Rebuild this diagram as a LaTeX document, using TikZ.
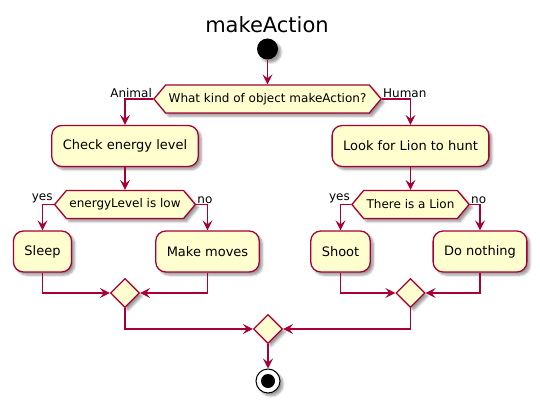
\documentclass[tikz,border=0pt]{standalone}
\usepackage{fontspec}
\setmainfont{DejaVu Sans}
\usetikzlibrary{arrows.meta,shapes.geometric,shapes.symbols,shadows.blur}
\definecolor{umlfill}{HTML}{FEFECE}
\definecolor{umlline}{HTML}{A80036}
\begin{document}
\begin{tikzpicture}[x=1pt,y=-1pt,
 shadowed/.style={blur shadow={shadow xshift=3pt,shadow yshift=-3pt,shadow blur steps=6,shadow opacity=40}},
 activity/.style={draw=umlline,fill=umlfill,line width=1.3pt,rounded corners=10pt,minimum height=41pt,inner xsep=11pt,font=\fontsize{13}{15}\selectfont,shadowed},
 decision/.style={draw=umlline,fill=umlfill,line width=1.3pt,shape=signal,signal to=east and west,signal pointer angle=100,minimum height=28pt,inner xsep=3pt,font=\fontsize{12}{14}\selectfont,shadowed},
 merge/.style={draw=umlline,fill=umlfill,line width=1.3pt,diamond,minimum size=29pt,inner sep=0pt,shadowed},
 flow/.style={draw=umlline,line width=1.3pt,-{Stealth[length=10pt,width=10pt,inset=4pt]}},
 lbl/.style={font=\fontsize{12}{14}\selectfont,inner sep=1pt}
]
\useasboundingbox (0,0) rectangle (540,406);
\node (title) at (267,25) {\fontsize{21}{25}\selectfont makeAction};
\node[circle,fill=black,minimum size=21pt,inner sep=0pt,shadowed] (start) at (267.5,49) {};
\node[decision] (d1) at (267.5,99) {What kind of object makeAction?};
\node[activity] (check) at (125,146) {Check energy level};
\node[decision] (d2) at (125,204.5) {energyLevel is low};
\node[activity] (sleep) at (42.5,251.5) {Sleep};
\node[activity] (moves) at (207.5,251.5) {Make moves};
\node[merge] (m1) at (125,293) {};
\node[activity] (look) at (410.5,146) {Look for Lion to hunt};
\node[decision] (d3) at (410.5,204.5) {There is a Lion};
\node[activity] (shoot) at (340.5,251.5) {Shoot};
\node[activity] (nothing) at (480,251.5) {Do nothing};
\node[merge] (m2) at (410.5,293) {};
\node[merge] (m0) at (268,329) {};
\node[circle,draw=black,fill=white,line width=1pt,minimum size=24pt,inner sep=0pt,shadowed] (stop) at (268,381) {};
\node[circle,fill=black,minimum size=14pt,inner sep=0pt] (stopdot) at (stop) {};

\node[lbl,anchor=south east] (lanimal) at (d1.west) {Animal};
\node[lbl,anchor=south west] (lhuman) at (d1.east) {Human};
\node[lbl,anchor=south east] (lyes1) at (d2.west) {yes};
\node[lbl,anchor=south west] (lno1) at (d2.east) {no};
\node[lbl,anchor=south east] (lyes2) at (d3.west) {yes};
\node[lbl,anchor=south west] (lno2) at (d3.east) {no};

\draw[flow] (start.south) -- (d1.north);
\draw[flow] (d1.west) -| (check.north);
\draw[flow] (d1.east) -| (look.north);
\draw[flow] (check.south) -- (d2.north);
\draw[flow] (d2.west) -| (sleep.north);
\draw[flow] (d2.east) -| (moves.north);
\draw[flow] (sleep.south) |- (m1.west);
\draw[flow] (moves.south) |- (m1.east);
\draw[flow] (look.south) -- (d3.north);
\draw[flow] (d3.west) -| (shoot.north);
\draw[flow] (d3.east) -| (nothing.north);
\draw[flow] (shoot.south) |- (m2.west);
\draw[flow] (nothing.south) |- (m2.east);
\draw[flow] (m1.south) |- (m0.west);
\draw[flow] (m2.south) |- (m0.east);
\draw[flow] (m0.south) -- (stop.north);
\end{tikzpicture}
\end{document}
